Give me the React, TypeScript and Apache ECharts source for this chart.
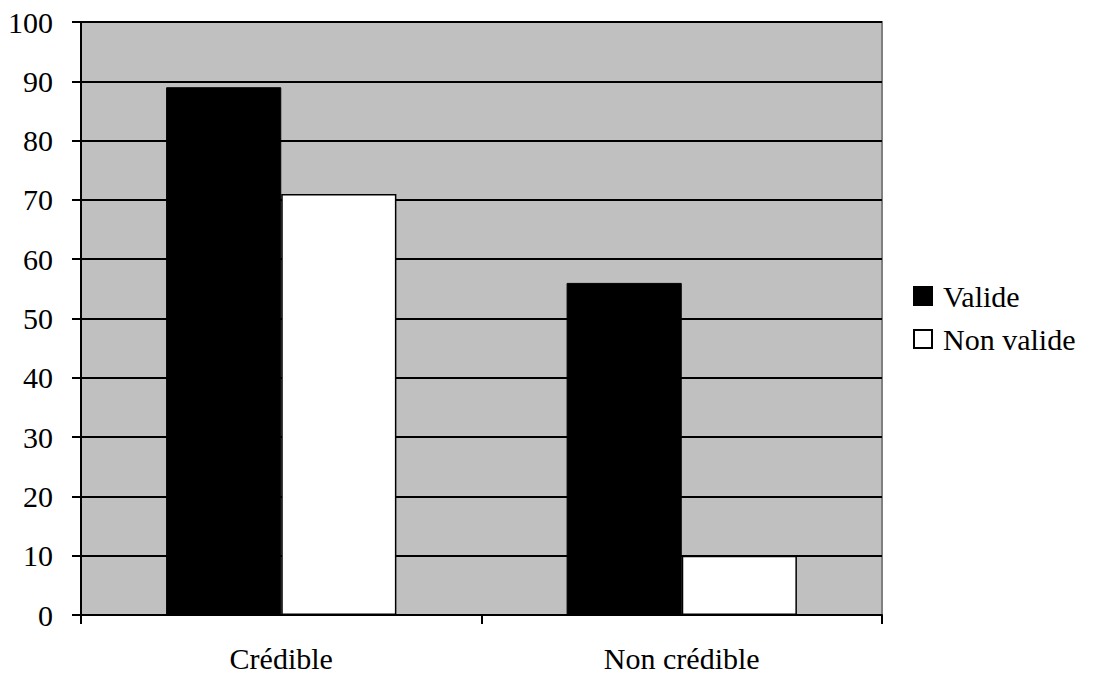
import React, { useEffect, useRef } from "react";
import * as echarts from "echarts";

const categories = ["Crédible", "Non crédible"];
const valide = [89, 56];
const nonValide = [71, 10];
const seriesNames = ["Valide", "Non valide"];

const FONT = "Liberation Serif";

export default function App() {
  const ref = useRef<HTMLDivElement>(null);

  useEffect(() => {
    if (!ref.current) return;
    const chart = echarts.init(ref.current, undefined, { renderer: "svg" });
    chart.setOption({
      animation: false,
      grid: { left: 81, top: 22, right: 212, bottom: 62, show: true, backgroundColor: "#C0C0C0", borderColor: "#808080", borderWidth: 2 },
      legend: {
        orient: "vertical",
        left: 908,
        top: 276,
        itemWidth: 18,
        itemHeight: 18,
        itemGap: 13,
        icon: "rect",
        textStyle: { fontFamily: FONT, fontSize: 30, color: "#000", padding: [0, 0, 0, 6] },
        data: seriesNames,
      },
      xAxis: {
        type: "category",
        data: categories,
        axisLine: { lineStyle: { color: "#000", width: 2 } },
        axisTick: { show: true, length: 9, lineStyle: { color: "#000", width: 2 } },
        axisLabel: { color: "#000", fontSize: 30, fontFamily: FONT, margin: 28 },
      },
      yAxis: {
        type: "value",
        min: 0,
        max: 100,
        interval: 10,
        axisLine: { show: true, lineStyle: { color: "#000", width: 2 } },
        axisTick: { show: true, length: 9, lineStyle: { color: "#000", width: 2 } },
        axisLabel: { color: "#000", fontSize: 30, fontFamily: FONT, margin: 28 },
        splitLine: { lineStyle: { color: "#000", width: 2 } },
      },
      series: [
        {
          name: seriesNames[0],
          type: "bar",
          data: valide,
          barGap: "0%",
          barCategoryGap: "42.5%",
          itemStyle: { color: "#000", borderColor: "#000", borderWidth: 1 },
        },
        {
          name: seriesNames[1],
          type: "bar",
          data: nonValide,
          itemStyle: { color: "#fff", borderColor: "#000", borderWidth: 1.5 },
        },
      ],
    });
    return () => chart.dispose();
  }, []);

  return <div ref={ref} style={{ width: 1094, height: 677, margin: -8 }} />;
}
